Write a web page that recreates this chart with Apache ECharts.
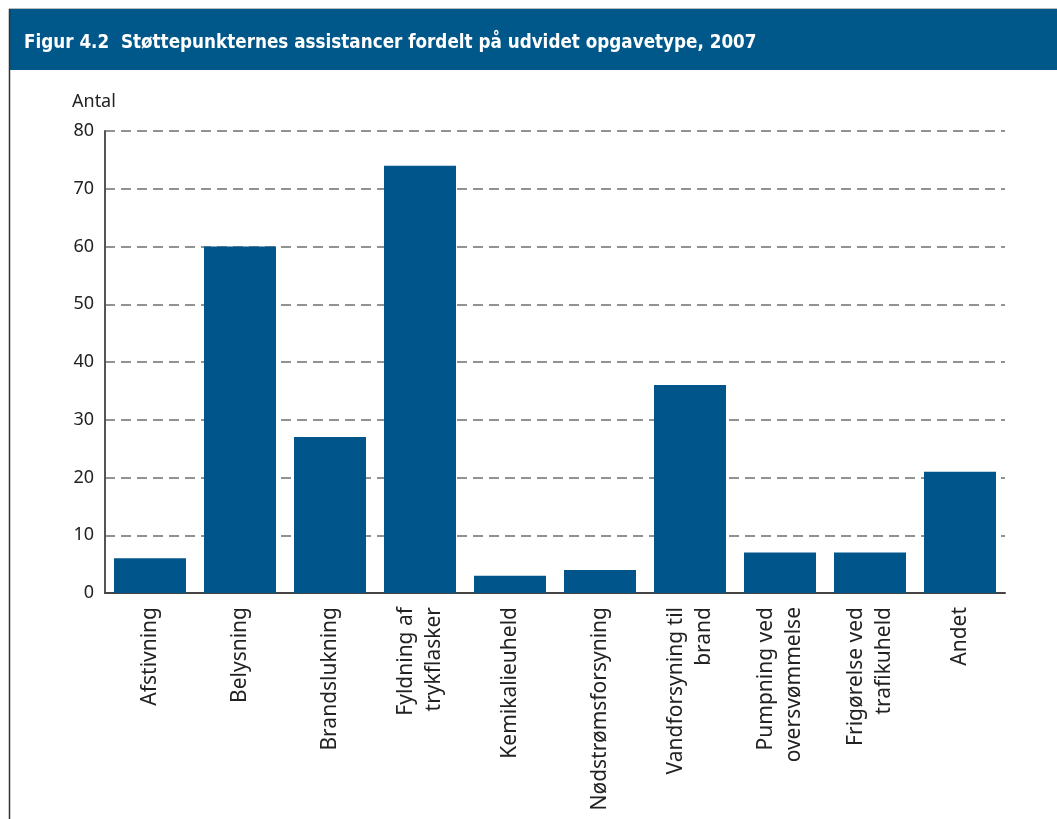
<!DOCTYPE html>
<html>
<head>
<meta charset="utf-8">
<script src="https://cdn.jsdelivr.net/npm/echarts@6/dist/echarts.min.js"></script>
<style>
html,body{margin:0;padding:0;background:#fff;}
#c{width:1057px;height:819px;}
</style>
</head>
<body>
<div id="c"></div>
<script>
const title = "Figur 4.2  Støttepunkternes assistancer fordelt på udvidet opgavetype, 2007";
const yName = "Antal";
const categories = [
  "Afstivning",
  "Belysning",
  "Brandslukning",
  "Fyldning af\ntrykflasker",
  "Kemikalieuheld",
  "Nødstrømsforsyning",
  "Vandforsyning til\nbrand",
  "Pumpning ved\noversvømmelse",
  "Frigørelse ved\ntrafikuheld",
  "Andet"
];
const values = [6, 60, 27, 74, 3, 4, 36, 7, 7, 21];

const chart = echarts.init(document.getElementById('c'), null, {renderer: 'canvas'});
chart.setOption({
  animation: false,
  backgroundColor: '#fff',
  graphic: [
    {type: 'line', shape: {x1: 9, y1: 8.5, x2: 1057, y2: 8.5}, style: {stroke: '#bbb', lineWidth: 1}},
    {type: 'rect', shape: {x: 9, y: 9, width: 1048, height: 61}, style: {fill: '#00578a'}},
    {type: 'line', shape: {x1: 9.5, y1: 9, x2: 9.5, y2: 819}, style: {stroke: '#333', lineWidth: 1.5}},
    {type: 'text', left: 24, top: 34, style: {text: title, fill: '#fff', font: 'bold 18.7px "DejaVu Sans Condensed", "Liberation Sans Narrow", sans-serif'}},
    {type: 'text', left: 72, top: 93, style: {text: yName, fill: '#222', font: '18px "Noto Sans", sans-serif'}}
  ],
  grid: {left: 105, right: 52, top: 131, bottom: 226},
  xAxis: {
    type: 'category',
    data: categories,
    axisLine: {show: true, lineStyle: {color: '#444', width: 2}},
    axisTick: {show: false},
    axisLabel: {
      interval: 0, rotate: 90, margin: 14,
      color: '#222', fontSize: 21, lineHeight: 28,
      fontFamily: '"Noto Sans", sans-serif'
    }
  },
  yAxis: {
    type: 'value', min: 0, max: 80, interval: 10,
    axisLine: {show: true, lineStyle: {color: '#555', width: 2}},
    axisTick: {show: false},
    axisLabel: {color: '#222', fontSize: 18, margin: 11, fontFamily: '"Noto Sans", sans-serif'},
    splitLine: {show: true, lineStyle: {color: '#6f6f6f', width: 1.5, type: [10, 6]}}
  },
  series: [{
    type: 'bar',
    data: values,
    barCategoryGap: '20%',
    itemStyle: {color: '#00558a'}
  }]
});
</script>
</body>
</html>
